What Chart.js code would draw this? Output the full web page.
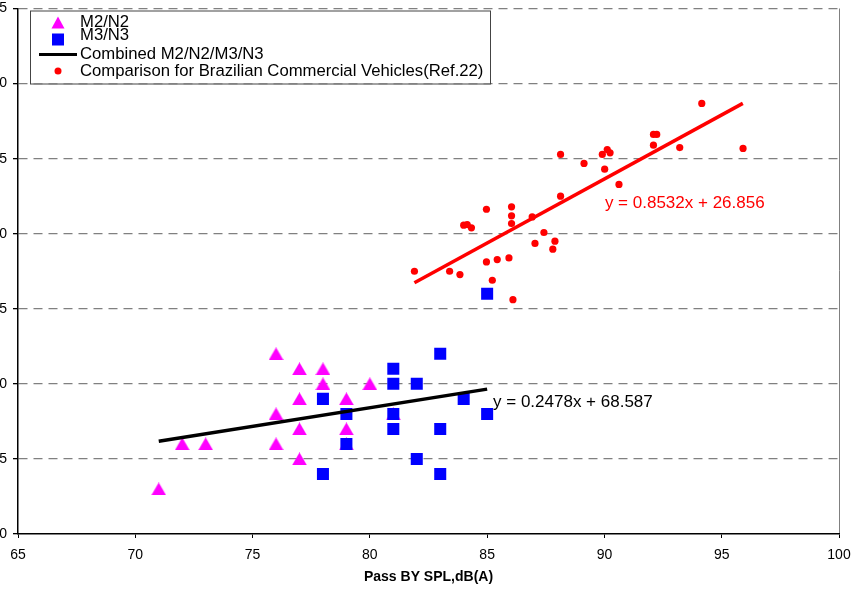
<!DOCTYPE html>
<html>
<head>
<meta charset="utf-8">
<script src="https://cdn.jsdelivr.net/npm/chart.js@4.4.1/dist/chart.umd.min.js"></script>
<style>
  html, body { margin: 0; padding: 0; background: #fff; overflow: hidden; }
  #wrap { position: relative; width: 853px; height: 593px; overflow: hidden; }
  #box { position: absolute; left: -24px; top: 0; width: 877px; height: 593px; }
</style>
</head>
<body>
<div id="wrap"><div id="box"><canvas id="noiseChart"></canvas></div></div>
<script>
// axis ticks
var xTicks = [65, 70, 75, 80, 85, 90, 95, 100];
var yTicks = [80, 85, 90, 95, 100, 105, 110, 115];

// M2/N2 (triangles)
var m2n2X = [71, 72, 73, 76, 76, 76, 77, 77, 77, 77, 78, 78, 79, 79, 79, 80, 81];
var m2n2Y = [83, 86, 86, 92, 88, 86, 91, 89, 87, 85, 91, 90, 89, 87, 86, 90, 88];

// M3/N3 (squares)
var m3n3X = [78, 78, 79, 79, 81, 81, 81, 81, 82, 82, 83, 83, 83, 84, 85, 85];
var m3n3Y = [89, 84, 88, 86, 91, 90, 88, 87, 90, 85, 92, 87, 84, 89, 88, 96];

// Brazilian commercial vehicles (Ref.22)
var brazilX = [81.9, 83.4, 83.84, 84.97, 85.43, 85.93, 85.22, 86.1, 84.0, 84.15, 84.33, 84.97, 86.04, 86.04, 86.04, 86.92, 87.42,
    87.04, 87.89, 87.8, 88.13, 88.13, 89.13, 89.91, 90.12, 90.24, 90.01, 90.62, 92.09, 92.23, 92.09, 93.21, 94.15, 95.91];
var brazilY = [97.5, 97.5, 97.28, 98.12, 98.28, 98.39, 96.9, 95.61, 100.57, 100.61, 100.39, 101.63, 101.79, 101.19, 100.68, 101.12, 100.08,
    99.35, 99.5, 98.97, 102.5, 105.28, 104.68, 105.28, 105.61, 105.39, 104.3, 103.28, 106.61, 106.61, 105.9, 105.74, 108.68, 105.68];

// trend lines (end points)
var combinedX = [71, 85];
var combinedY = [86.18, 89.65];
var brazilFitX = [81.9, 95.9];
var brazilFitY = [96.73, 108.68];

var combinedEq = 'y = 0.2478x + 68.587';
var brazilEq = 'y = 0.8532x + 26.856';

var legendLabels = ['M2/N2', 'M3/N3', 'Combined M2/N2/M3/N3', 'Comparison for Brazilian Commercial Vehicles(Ref.22)'];

function toPoints(xs, ys) {
    return xs.map(function (x, i) { return { x: x, y: ys[i] }; });
}

var FONT = '"Liberation Sans", Arial, sans-serif';

// triangle marker centred on its box (like the spreadsheet markers)
function makeTriangle() {
    var c = document.createElement('canvas');
    c.width = 15;
    c.height = 13;
    var g = c.getContext('2d');
    g.fillStyle = '#ff00ff';
    g.beginPath();
    g.moveTo(7.5, 0);
    g.lineTo(15, 13);
    g.lineTo(0, 13);
    g.closePath();
    g.fill();
    return c;
}
var triangleMarker = makeTriangle();

// legend + equation labels drawn on the canvas
var overlayPlugin = {
    id: 'overlay',
    afterDatasetsDraw: function (chart) {
        var ctx = chart.ctx;
        var area = chart.chartArea;
        var xs = chart.scales.x, ys = chart.scales.y;
        ctx.save();

        // equations
        ctx.font = '17px ' + FONT;
        ctx.textBaseline = 'middle';
        ctx.textAlign = 'left';
        ctx.fillStyle = '#000000';
        ctx.fillText(combinedEq, xs.getPixelForValue(85.25), ys.getPixelForValue(88.77));
        ctx.fillStyle = '#ff0000';
        ctx.fillText(brazilEq, xs.getPixelForValue(90.02), ys.getPixelForValue(102.02));

        // legend box
        var lx = area.left + 12, ly = area.top + 2;
        ctx.fillStyle = '#ffffff';
        ctx.fillRect(lx, ly, 460, 73);
        ctx.strokeStyle = '#444444';
        ctx.lineWidth = 1;
        ctx.strokeRect(lx + 0.5, ly + 0.5, 460, 73);

        var mx = lx + 28;
        // triangle
        ctx.fillStyle = '#ff00ff';
        ctx.beginPath();
        ctx.moveTo(mx, ly + 6);
        ctx.lineTo(mx + 6.5, ly + 18);
        ctx.lineTo(mx - 6.5, ly + 18);
        ctx.closePath();
        ctx.fill();
        // square
        ctx.fillStyle = '#0000ff';
        ctx.fillRect(mx - 6, ly + 23, 12, 12);
        // line
        ctx.strokeStyle = '#000000';
        ctx.lineWidth = 3;
        ctx.beginPath();
        ctx.moveTo(lx + 9, ly + 44);
        ctx.lineTo(lx + 47, ly + 44);
        ctx.stroke();
        // dot
        ctx.fillStyle = '#ff0000';
        ctx.beginPath();
        ctx.arc(mx, ly + 60.5, 3.5, 0, Math.PI * 2);
        ctx.fill();

        ctx.fillStyle = '#000000';
        ctx.font = '16.7px ' + FONT;
        var rows = [11.5, 25, 44, 60.5];
        legendLabels.forEach(function (t, i) {
            ctx.fillText(t, lx + 50, ly + rows[i]);
        });
        ctx.restore();
    }
};

var canvas = document.querySelector('#noiseChart');

new Chart(canvas, {
    type: 'scatter',
    data: {
        datasets: [
            {
                label: legendLabels[2],
                type: 'line',
                data: toPoints(combinedX, combinedY),
                borderColor: '#000000',
                borderWidth: 3.5,
                pointRadius: 0,
                fill: false,
                order: 1
            },
            {
                label: 'Brazil fit',
                type: 'line',
                data: toPoints(brazilFitX, brazilFitY),
                borderColor: '#ff0000',
                borderWidth: 3.5,
                pointRadius: 0,
                fill: false,
                order: 2
            },
            {
                label: legendLabels[1],
                data: toPoints(m3n3X, m3n3Y),
                pointStyle: 'rect',
                pointRadius: 8.5,
                backgroundColor: '#0000ff',
                borderWidth: 0,
                order: 3
            },
            {
                label: legendLabels[0],
                data: toPoints(m2n2X, m2n2Y),
                pointStyle: triangleMarker,
                pointRadius: 8,
                backgroundColor: '#ff00ff',
                borderWidth: 0,
                order: 4
            },
            {
                label: legendLabels[3],
                data: toPoints(brazilX, brazilY),
                pointStyle: 'circle',
                pointRadius: 3.6,
                backgroundColor: '#ff0000',
                borderWidth: 0,
                order: 5
            }
        ]
    },
    options: {
        responsive: true,
        maintainAspectRatio: false,
        animation: false,
        events: [],
        layout: {
            padding: { top: 6, right: 14, left: 0, bottom: 0 }
        },
        scales: {
            x: {
                type: 'linear',
                min: xTicks[0],
                max: xTicks[xTicks.length - 1],
                afterBuildTicks: function (scale) {
                    scale.ticks = xTicks.map(function (v) { return { value: v }; });
                },
                afterFit: function (scale) { scale.height = 59; },
                grid: {
                    drawOnChartArea: true,
                    color: function (c) { return c.tick && c.tick.value === 100 ? '#808080' : 'rgba(0,0,0,0)'; },
                    tickColor: '#000000',
                    tickLength: 4,
                    lineWidth: 1
                },
                border: { display: true, color: '#000000', width: 1.5 },
                ticks: {
                    color: '#000000',
                    padding: 0,
                    maxRotation: 0,
                    font: { family: FONT, size: 14, lineHeight: 2.43 }
                },
                title: {
                    display: true,
                    text: 'Pass BY SPL,dB(A)',
                    color: '#000000',
                    font: { family: FONT, size: 14, weight: 'bold' },
                    padding: { top: 0, bottom: 7.6 }
                }
            },
            y: {
                type: 'linear',
                min: yTicks[0],
                max: yTicks[yTicks.length - 1],
                afterBuildTicks: function (scale) {
                    scale.ticks = yTicks.map(function (v) { return { value: v }; });
                },
                afterFit: function (scale) { scale.width = 42; },
                grid: {
                    color: function (c) { return c.tick && c.tick.value === 80 ? 'rgba(0,0,0,0)' : '#808080'; },
                    tickColor: '#000000',
                    tickLength: 5,
                    lineWidth: 1.3
                },
                border: { display: true, color: '#000000', width: 1.5, dash: [9, 6] },
                ticks: {
                    color: '#000000',
                    padding: 6,
                    font: { family: FONT, size: 14, lineHeight: 0.01 }
                }
            }
        },
        plugins: {
            legend: { display: false },
            tooltip: { enabled: false }
        }
    },
    plugins: [overlayPlugin]
});
</script>
</body>
</html>
